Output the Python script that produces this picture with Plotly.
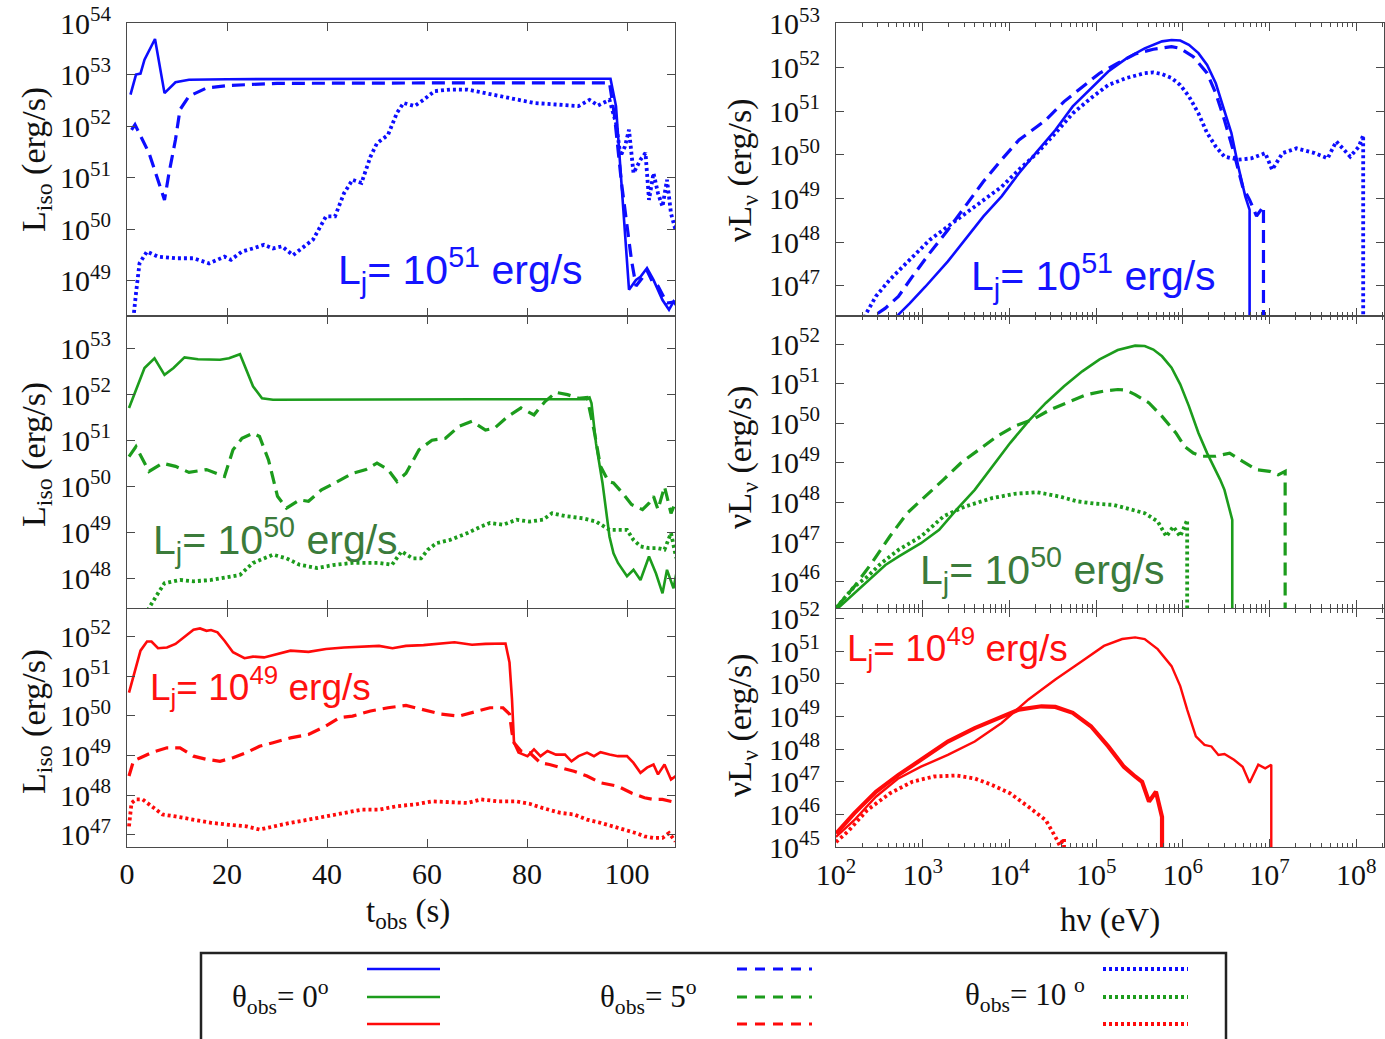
import plotly.graph_objects as go

W, H = 1385, 1039
SERIF = "Liberation Serif"
SANS = "Liberation Sans"

BLUE = "#0d0dff"
GREEN = "#1c9c1c"
RED = "#ff0a0a"
LBL_BLUE = "#1414ff"
LBL_GREEN = "#3b7b3b"
LBL_RED = "#ff1010"
FRAME = "#4a4a4a"

# ---------------- light curves: t_obs (s) and log10 L_iso (erg/s) ----------------
# L_j = 1e51 erg/s
t_b0 = [0.7, 1.8, 2.7, 3.5, 5.6, 7.5, 9.7, 12.4, 20, 40, 60, 80, 96.7, 97.8, 98.7, 99.3,
        100.4, 101.8, 102.7, 104.0, 105.3, 107.1, 108.4, 109.3, 110]
lg_b0 = [52.61, 53.0, 53.02, 53.29, 53.69, 52.64, 52.85, 52.9, 52.91, 52.92, 52.92, 52.92,
         52.92, 52.39, 51.22, 50.31, 48.83, 49.02, 49.08, 49.25, 49.02, 48.63, 48.44, 48.6, 48.5]

t_b5 = [0.9, 1.6, 4.4, 7.5, 8.4, 9.7, 10.6, 12.4, 15.9, 20.4, 30, 50, 70, 90, 96.5, 97.5,
        98.9, 100.9, 101.8, 103, 104, 105, 106.2, 108, 110]
lg_b5 = [51.93, 52.03, 51.48, 50.57, 51.09, 51.74, 52.32, 52.58, 52.74, 52.79, 52.83, 52.84,
         52.84, 52.84, 52.84, 52.2, 50.9, 49.4, 48.9, 49.05, 49.2, 49.0, 48.9, 48.57, 48.6]

t_b10 = [1.0, 1.3, 1.8, 2.5, 4.0, 6.2, 9.7, 13.3, 16.4, 19.5, 20.8, 23.0, 25.2, 27.4, 29.2,
         31.0, 33.2, 35.4, 37.2, 39.8, 41.6, 43.4, 45.1, 46.9, 48.7, 50.0, 52.2, 54.0, 55.3,
         57.5, 59.3, 61.5, 64.6, 68.1, 71.7, 75.2, 78.8, 81.4, 85.8, 90.3, 92.5, 94.2, 96.5,
         97.8, 98.7, 99.6, 100.4, 101.3, 102.7, 103.7, 104.4, 105.3, 106.2, 107.1, 108.0,
         108.8, 109.7, 110.6]
lg_b10 = [47.8, 48.3, 48.76, 49.34, 49.57, 49.47, 49.44, 49.44, 49.34, 49.47, 49.41, 49.57,
          49.63, 49.7, 49.63, 49.67, 49.5, 49.67, 49.8, 50.25, 50.25, 50.7, 50.96, 50.9, 51.41,
          51.67, 51.83, 52.26, 52.45, 52.39, 52.51, 52.68, 52.71, 52.71, 52.64, 52.58, 52.51,
          52.45, 52.42, 52.39, 52.51, 52.4, 52.51, 52.06, 51.42, 51.61, 51.93, 51.09, 51.35,
          51.48, 50.57, 51.09, 50.7, 50.44, 50.96, 50.31, 49.99, 50.5]

# L_j = 1e50 erg/s
t_g0 = [0.4, 3.5, 5.5, 7.5, 9.3, 11.5, 14.2, 18.6, 20.4, 22.6, 25.2, 27.0, 29.2, 50, 70, 91.6,
        92.5, 92.9, 93.8, 95.1, 96.5, 97.3, 98.2, 100.0, 101.3, 102.7, 104.4, 105.8, 107.1,
        108.0, 109.3, 110.2]
lg_g0 = [51.7, 52.57, 52.78, 52.42, 52.57, 52.8, 52.76, 52.75, 52.78, 52.87, 52.17, 51.91,
         51.88, 51.89, 51.89, 51.89, 51.93, 51.8, 50.93, 50.07, 48.9, 48.54, 48.33, 48.04,
         48.18, 47.96, 48.47, 48.1, 47.67, 48.18, 47.78, 48.29]

t_g5 = [0.4, 1.8, 4.4, 7.1, 9.7, 12.4, 15.9, 19.5, 21.2, 23.0, 25.2, 26.5, 28.3, 30.1, 31.9,
        34.5, 36.3, 38.9, 41.6, 45.1, 47.8, 50.0, 52.2, 54.0, 55.8, 58.4, 61.0, 63.7, 66.4,
        69.0, 71.7, 73.5, 76.1, 78.8, 81.4, 83.6, 85.8, 88.1, 90.3, 92.0, 93.4, 94.7, 96.3,
        97.3, 99.1, 100.9, 103.1, 104.4, 105.3, 106.2, 107.5, 108.8, 110.2]
lg_g5 = [50.64, 50.86, 50.32, 50.5, 50.43, 50.3, 50.36, 50.21, 50.79, 51.04, 51.15, 51.08,
         50.57, 49.78, 49.52, 49.7, 49.67, 49.92, 50.07, 50.28, 50.36, 50.5, 50.36, 50.1,
         50.28, 50.79, 51.0, 51.04, 51.3, 51.41, 51.22, 51.26, 51.51, 51.7, 51.55, 51.84,
         52.04, 51.99, 51.91, 51.93, 51.22, 50.43, 50.1, 50.07, 49.85, 49.6, 49.49, 49.63,
         49.78, 49.49, 49.99, 49.41, 49.78]

t_g10 = [3.8, 4.4, 5.8, 7.5, 10.6, 13.3, 16.8, 20.4, 22.6, 25.2, 29.2, 31.9, 34.5, 38.0, 41.6,
         45.1, 50.4, 53.0, 54.9, 57.1, 58.8, 60.2, 61.9, 64.6, 68.1, 70.8, 72.6, 75.2, 77.9,
         80.5, 83.2, 85.0, 87.6, 91.2, 93.8, 96.5, 98.2, 100.0, 101.3, 102.7, 104.4, 106.2,
         107.5, 108.8, 109.7, 110.2]
lg_g10 = [46.9, 47.35, 47.6, 47.89, 47.96, 47.93, 47.96, 48.04, 48.07, 48.33, 48.51, 48.43,
          48.29, 48.22, 48.29, 48.33, 48.33, 48.29, 48.58, 48.43, 48.43, 48.62, 48.76, 48.83,
          48.98, 49.12, 49.2, 49.16, 49.27, 49.23, 49.27, 49.41, 49.35, 49.3, 49.23, 49.05,
          49.05, 49.05, 48.83, 48.69, 48.65, 48.65, 48.62, 48.98, 48.51, 48.33]

# L_j = 1e49 erg/s
t_r0 = [0.4, 1.8, 2.7, 4.0, 4.9, 6.2, 8.0, 9.7, 11.5, 13.3, 14.6, 15.9, 16.8, 18.1, 19.5,
        21.2, 23.5, 25.2, 27.4, 29.2, 32.7, 36.3, 39.8, 43.4, 46.9, 50.4, 53.1, 55.8, 59.3,
        62.8, 65.5, 69.0, 71.7, 75.7, 76.5, 77.0, 77.4, 78.3, 80.1, 81.4, 82.7, 84.1, 85.8,
        87.6, 88.9, 90.3, 92.0, 93.4, 94.7, 96.5, 98.2, 100.0, 101.3, 102.7, 104.0, 105.3,
        106.2, 107.5, 108.8, 110.2]
lg_r0 = [50.58, 51.26, 51.64, 51.87, 51.87, 51.7, 51.72, 51.81, 52.0, 52.17, 52.2, 52.14,
         52.16, 52.1, 51.89, 51.6, 51.45, 51.49, 51.47, 51.53, 51.64, 51.61, 51.68, 51.72,
         51.74, 51.76, 51.7, 51.76, 51.78, 51.82, 51.85, 51.79, 51.81, 51.82, 51.34, 50.41,
         49.32, 49.07, 48.98, 49.15, 48.98, 49.11, 49.02, 49.02, 48.85, 48.98, 49.07, 48.98,
         49.08, 49.02, 48.98, 48.98, 48.81, 48.56, 48.69, 48.77, 48.52, 48.77, 48.39, 48.52]

t_r5 = [0.4, 1.3, 2.7, 4.9, 8.0, 10.6, 13.3, 15.9, 18.6, 21.2, 23.9, 26.5, 29.2, 32.7, 36.3,
        39.8, 42.5, 45.1, 48.7, 52.2, 55.8, 59.3, 62.8, 66.4, 69.9, 72.6, 75.2, 76.5, 77.0,
        77.4, 78.8, 80.5, 82.7, 84.5, 86.7, 89.4, 92.0, 94.7, 98.2, 100.9, 103.5, 105.3,
        107.1, 108.8, 110.2]
lg_r5 = [48.48, 48.86, 48.94, 49.07, 49.19, 49.19, 48.98, 48.9, 48.85, 48.94, 49.07, 49.23,
         49.32, 49.44, 49.53, 49.74, 49.95, 49.99, 50.12, 50.2, 50.26, 50.16, 50.04, 49.99,
         50.12, 50.2, 50.2, 50.04, 49.57, 49.32, 49.11, 49.07, 48.81, 48.77, 48.69, 48.6,
         48.48, 48.31, 48.22, 48.05, 47.93, 47.89, 47.89, 47.84, 47.8]

t_r10 = [0.4, 0.9, 1.8, 3.1, 4.9, 7.1, 9.7, 13.3, 16.8, 20.4, 23.9, 26.5, 29.2, 32.7, 36.3,
         39.8, 43.4, 46.9, 50.4, 54.0, 57.5, 61.0, 64.6, 68.1, 70.8, 74.3, 77.9, 80.5, 83.2,
         86.7, 89.4, 92.0, 94.7, 97.3, 99.1, 101.8, 103.5, 105.3, 107.1, 108.4, 109.7]
lg_r10 = [47.21, 47.8, 47.89, 47.89, 47.72, 47.51, 47.46, 47.38, 47.3, 47.25, 47.21, 47.13,
          47.21, 47.3, 47.38, 47.46, 47.55, 47.63, 47.63, 47.72, 47.76, 47.84, 47.82, 47.8,
          47.89, 47.84, 47.84, 47.78, 47.67, 47.55, 47.51, 47.38, 47.3, 47.21, 47.13, 47.04,
          46.96, 46.92, 46.92, 47.04, 46.83]

# ---------------- spectra: log10 hnu (eV) and log10 nuL_nu (erg/s) ----------------
# L_j = 1e51 erg/s
e_b0 = [2.60, 2.72, 2.85, 3.03, 3.29, 3.49, 3.70, 3.91, 4.11, 4.32, 4.53, 4.73, 4.94, 5.14,
        5.35, 5.56, 5.76, 5.87, 5.97, 6.07, 6.18, 6.28, 6.38, 6.48, 6.56, 6.64, 6.72, 6.77,
        6.77, 6.77]
s_b0 = [45.5, 46.34, 46.6, 46.98, 47.56, 48.05, 48.59, 49.05, 49.58, 50.08, 50.57, 51.11,
        51.53, 51.91, 52.21, 52.44, 52.6, 52.63, 52.62, 52.52, 52.33, 52.06, 51.64, 51.03,
        50.5, 49.73, 49.05, 48.74, 48.36, 40.0]

e_b5 = [2.35, 2.46, 2.57, 2.72, 2.88, 3.08, 3.29, 3.49, 3.70, 3.91, 4.11, 4.32, 4.42, 4.63,
        4.84, 5.04, 5.25, 5.45, 5.66, 5.87, 5.97, 6.12, 6.28, 6.38, 6.48, 6.59, 6.69, 6.77,
        6.85, 6.90, 6.93, 6.93]
s_b5 = [45.5, 46.34, 46.49, 46.76, 47.21, 47.75, 48.28, 48.82, 49.39, 49.89, 50.34, 50.65,
        50.8, 51.22, 51.56, 51.87, 52.1, 52.31, 52.42, 52.48, 52.44, 52.25, 51.87, 51.41,
        50.8, 50.04, 49.27, 48.97, 48.6, 48.75, 48.82, 40.0]

e_b10 = [2.25, 2.34, 2.46, 2.62, 2.77, 2.93, 3.08, 3.29, 3.49, 3.70, 3.91, 4.11, 4.32, 4.53,
         4.73, 4.94, 5.14, 5.35, 5.56, 5.66, 5.76, 5.87, 5.97, 6.07, 6.18, 6.28, 6.38, 6.48,
         6.64, 6.79, 6.95, 7.03, 7.15, 7.31, 7.52, 7.67, 7.77, 7.93, 8.03, 8.08, 8.08]
s_b10 = [45.6, 46.34, 46.76, 47.14, 47.44, 47.75, 48.05, 48.36, 48.66, 48.97, 49.27, 49.66,
         50.04, 50.5, 50.95, 51.3, 51.6, 51.76, 51.87, 51.89, 51.85, 51.76, 51.6, 51.34,
         50.95, 50.5, 50.19, 49.96, 49.89, 49.92, 50.04, 49.66, 50.04, 50.15, 50.04, 49.92,
         50.31, 49.96, 50.19, 50.45, 40.0]

# L_j = 1e50 erg/s
e_g0 = [2.0, 2.26, 2.57, 2.72, 2.98, 3.19, 3.39, 3.60, 3.80, 4.01, 4.22, 4.42, 4.63, 4.84,
        5.04, 5.25, 5.45, 5.56, 5.66, 5.76, 5.87, 5.97, 6.07, 6.18, 6.28, 6.36, 6.43, 6.48,
        6.57, 6.57]
s_g0 = [45.28, 45.79, 46.42, 46.63, 46.97, 47.31, 47.82, 48.32, 48.91, 49.51, 50.06, 50.52,
        50.94, 51.32, 51.62, 51.86, 51.97, 51.96, 51.87, 51.7, 51.41, 50.99, 50.44, 49.76,
        49.25, 48.91, 48.58, 48.32, 47.56, 40.0]

e_g5 = [2.0, 2.21, 2.41, 2.62, 2.82, 3.03, 3.24, 3.44, 3.65, 3.86, 4.06, 4.27, 4.47, 4.68,
        4.89, 5.09, 5.25, 5.35, 5.45, 5.61, 5.76, 5.92, 6.02, 6.12, 6.23, 6.38, 6.54, 6.69,
        6.85, 7.00, 7.10, 7.18, 7.18]
s_g5 = [45.33, 45.87, 46.46, 47.14, 47.73, 48.15, 48.58, 49.0, 49.34, 49.68, 49.93, 50.1,
        50.35, 50.54, 50.73, 50.82, 50.86, 50.84, 50.73, 50.52, 50.18, 49.76, 49.42, 49.25,
        49.17, 49.17, 49.25, 49.04, 48.83, 48.79, 48.7, 48.79, 40.0]

e_g10 = [2.0, 2.21, 2.36, 2.52, 2.72, 2.98, 3.24, 3.49, 3.80, 4.06, 4.32, 4.58, 4.78, 4.99,
         5.20, 5.40, 5.56, 5.71, 5.81, 5.89, 5.97, 6.05, 6.05]
s_g10 = [45.33, 45.87, 46.12, 46.46, 46.8, 47.14, 47.65, 47.9, 48.11, 48.22, 48.26, 48.15,
         48.03, 47.97, 47.94, 47.82, 47.73, 47.52, 47.14, 47.39, 47.14, 47.56, 40.0]

# L_j = 1e49 erg/s
e_r0 = [2.0, 2.21, 2.46, 2.72, 2.98, 3.29, 3.60, 3.91, 4.22, 4.53, 4.84, 5.09, 5.30, 5.45,
        5.56, 5.71, 5.87, 5.97, 6.05, 6.15, 6.25, 6.33, 6.41, 6.48, 6.59, 6.69, 6.77, 6.87,
        6.95, 7.02, 7.02]
s_r0 = [45.31, 45.82, 46.54, 47.1, 47.46, 47.82, 48.23, 48.8, 49.52, 50.13, 50.7, 51.16,
        51.37, 51.42, 51.37, 51.06, 50.54, 49.93, 49.21, 48.39, 48.13, 48.08, 47.82, 47.85,
        47.67, 47.46, 46.97, 47.52, 47.41, 47.52, 40.0]

e_r5 = [2.0, 2.21, 2.46, 2.72, 2.98, 3.29, 3.60, 3.91, 4.11, 4.37, 4.53, 4.73, 4.94, 5.14,
        5.32, 5.45, 5.53, 5.61, 5.69, 5.76, 5.76]
s_r5 = [45.41, 46.03, 46.69, 47.21, 47.67, 48.23, 48.64, 49.0, 49.21, 49.31, 49.29, 49.11,
        48.7, 48.08, 47.46, 47.16, 47.0, 46.39, 46.69, 45.92, 40.0]

e_r10 = [2.0, 2.15, 2.36, 2.62, 2.88, 3.13, 3.39, 3.60, 3.80, 4.01, 4.22, 4.42, 4.53, 4.58,
         4.63, 4.63]
s_r10 = [45.15, 45.51, 46.13, 46.64, 47.0, 47.16, 47.19, 47.1, 46.9, 46.64, 46.23, 45.82,
         45.31, 45.05, 45.26, 40.0]

# ---------------- axis settings ----------------
t_ticks = [0, 20, 40, 60, 80, 100]
lc_range = {1: (48.32, 54.0), 3: (47.35, 53.70), 5: (46.69, 52.69)}
lc_decades = {1: range(49, 55), 3: range(48, 54), 5: range(47, 53)}
sp_range = {2: (46.31, 53.02), 4: (45.33, 52.72), 6: (45.0, 52.29)}
sp_decades = {2: range(47, 54), 4: range(46, 53), 6: range(45, 53)}
e_decades = range(2, 9)


def px(x):
    return x / W


def py(y):
    return 1 - y / H


SOLID = dict(width=2.6)
DASH = dict(width=3.2, dash="13px,7px")
DOT = dict(width=3.8, dash="3px,3px")

fig = go.Figure()


def curve(xs, ys, n, color, style, logx=False):
    x = [10 ** v for v in xs] if logx else list(xs)
    y = [10 ** v for v in ys]
    sfx = "" if n == 1 else str(n)
    fig.add_trace(go.Scatter(x=x, y=y, mode="lines", line=dict(color=color, **style),
                             xaxis="x" + sfx, yaxis="y" + sfx,
                             showlegend=False, hoverinfo="skip"))


curve(t_b0, lg_b0, 1, BLUE, SOLID)
curve(t_b5, lg_b5, 1, BLUE, DASH)
curve(t_b10, lg_b10, 1, BLUE, DOT)
curve(t_g0, lg_g0, 3, GREEN, SOLID)
curve(t_g5, lg_g5, 3, GREEN, DASH)
curve(t_g10, lg_g10, 3, GREEN, DOT)
curve(t_r0, lg_r0, 5, RED, SOLID)
curve(t_r5, lg_r5, 5, RED, DASH)
curve(t_r10, lg_r10, 5, RED, DOT)

curve(e_b0, s_b0, 2, BLUE, SOLID, True)
curve(e_b5, s_b5, 2, BLUE, DASH, True)
curve(e_b10, s_b10, 2, BLUE, DOT, True)
curve(e_g0, s_g0, 4, GREEN, SOLID, True)
curve(e_g5, s_g5, 4, GREEN, DASH, True)
curve(e_g10, s_g10, 4, GREEN, DOT, True)
curve(e_r0, s_r0, 6, RED, dict(width=2.4), True)
curve(e_r5, s_r5, 6, RED, dict(width=4.2), True)
curve(e_r10, s_r10, 6, RED, DOT, True)

frame = dict(showline=True, linecolor=FRAME, linewidth=1.2, mirror="ticks",
             ticks="inside", ticklen=8, tickwidth=1.2, tickcolor=FRAME,
             showgrid=False, zeroline=False, automargin=False,
             tickfont=dict(family=SERIF, size=30, color="#111111"))

rows_px = {1: (23, 316), 2: (316, 608), 3: (609, 847)}
left_dom = [px(127), px(675)]
right_dom = [px(836), px(1384)]

layout = {}
for n in range(1, 7):
    row = (n + 1) // 2
    top, bot = rows_px[row]
    ydom = [py(bot), py(top)]
    sfx = "" if n == 1 else str(n)
    bottom_row = row == 3
    if n % 2 == 1:
        xa = dict(frame, domain=left_dom, range=[0, 109.6], tickmode="array",
                  tickvals=t_ticks, ticktext=[str(v) for v in t_ticks],
                  showticklabels=bottom_row, ticklabelstandoff=0,
                  anchor="y" + sfx)
        lo, hi = lc_range[n]
        ya = dict(frame, domain=ydom, type="log", range=[lo, hi], tickmode="array",
                  tickvals=[10.0 ** k for k in lc_decades[n]],
                  ticktext=["10<sup>%d</sup>" % k for k in lc_decades[n]],
                  ticklabelstandoff=9, anchor="x" + sfx)
    else:
        xa = dict(frame, domain=right_dom, type="log", range=[2, 8.32], tickmode="array",
                  tickvals=[10.0 ** k for k in e_decades],
                  ticktext=["10<sup>%d</sup>" % k for k in e_decades],
                  showticklabels=bottom_row, ticklabelstandoff=1,
                  minor=dict(ticks="inside", ticklen=4, tickwidth=1, tickcolor=FRAME,
                             dtick="D1", showgrid=False),
                  anchor="y" + sfx)
        lo, hi = sp_range[n]
        ya = dict(frame, domain=ydom, type="log", range=[lo, hi], tickmode="array",
                  tickvals=[10.0 ** k for k in sp_decades[n]],
                  ticktext=["10<sup>%d</sup>" % k for k in sp_decades[n]],
                  ticklabelstandoff=9, anchor="x" + sfx)
    layout["xaxis" + sfx] = xa
    layout["yaxis" + sfx] = ya

ann = []


def text(x, y, s, size, color="#111111", family=SERIF, angle=0):
    ann.append(dict(x=px(x), y=py(y), xref="paper", yref="paper", text=s,
                    showarrow=False, textangle=angle, xanchor="center", yanchor="middle",
                    font=dict(family=family, size=size, color=color)))


# axis titles
for yc in (160, 455, 722):
    text(36, yc, "L<sub>iso</sub> (erg/s)", 34, angle=-90)
for yc in (170, 457, 725):
    text(742, yc, "νL<sub>ν</sub> (erg/s)", 34, angle=-90)
text(408, 913, "t<sub>obs</sub> (s)", 33)
text(1110, 920, "hν (eV)", 33)

# jet luminosity labels
text(460, 270, "L<sub>j</sub>= 10<sup>51</sup> erg/s", 41, LBL_BLUE, SANS)
text(1093, 276, "L<sub>j</sub>= 10<sup>51</sup> erg/s", 41, LBL_BLUE, SANS)
text(275, 540, "L<sub>j</sub>= 10<sup>50</sup> erg/s", 41, LBL_GREEN, SANS)
text(1042, 570, "L<sub>j</sub>= 10<sup>50</sup> erg/s", 41, LBL_GREEN, SANS)
text(260, 686, "L<sub>j</sub>= 10<sup>49</sup> erg/s", 37, LBL_RED, SANS)
text(958, 647, "L<sub>j</sub>= 10<sup>49</sup> erg/s", 37, LBL_RED, SANS)

# observer-angle key
text(280, 997, "θ<sub>obs</sub>= 0<sup>o</sup>", 31)
text(648, 997, "θ<sub>obs</sub>= 5<sup>o</sup>", 31)
text(1025, 995, "θ<sub>obs</sub>= 10 <sup>o</sup>", 31)

shapes = [dict(type="rect", xref="paper", yref="paper", x0=px(201), x1=px(1226),
               y0=-0.05, y1=py(953), line=dict(color="#222222", width=2.5))]
key_rows = [(BLUE, 969), (GREEN, 997), (RED, 1024)]
for color, yy in key_rows:
    shapes.append(dict(type="line", xref="paper", yref="paper", x0=px(367), x1=px(440),
                       y0=py(yy), y1=py(yy), line=dict(color=color, width=2.6)))
    shapes.append(dict(type="line", xref="paper", yref="paper", x0=px(737), x1=px(812),
                       y0=py(yy), y1=py(yy), line=dict(color=color, width=3.2, dash="10px,8px")))
    shapes.append(dict(type="line", xref="paper", yref="paper", x0=px(1103), x1=px(1188),
                       y0=py(yy), y1=py(yy), line=dict(color=color, width=3.8, dash="3px,3px")))

fig.update_layout(width=W, height=H, margin=dict(l=0, r=0, t=0, b=0),
                  paper_bgcolor="white", plot_bgcolor="white",
                  annotations=ann, shapes=shapes, **layout)

fig.write_html("out.html")
